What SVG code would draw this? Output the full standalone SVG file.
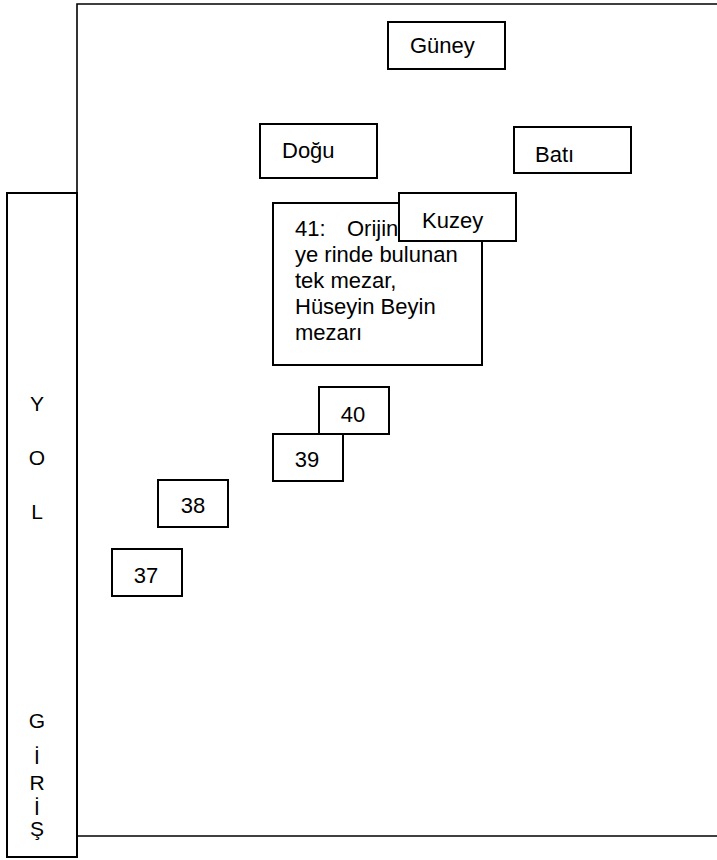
<svg xmlns="http://www.w3.org/2000/svg" width="717" height="860" viewBox="0 0 717 860">
<style>
.box{fill:#fff;stroke:#000;stroke-width:2}
.ln{fill:none;stroke:#000;stroke-width:1.6}
text{font-family:"Liberation Sans",Arial,sans-serif;font-size:22px;fill:#000}
.c{text-anchor:middle}
.v{font-size:21px}
</style>
<rect width="717" height="860" fill="#fff"/>
<g id="connectors">
<polyline class="ln" points="717,4 77,4 77,193"/>
<line class="ln" x1="77" y1="836" x2="717" y2="836"/>
</g>
<g id="yol">
<rect class="box" x="7" y="193" width="70" height="664"/>
<text class="c v" x="37" y="411">Y</text>
<text class="c v" x="37" y="465">O</text>
<text class="c v" x="37" y="519">L</text>
<text class="c v" x="37" y="728">G</text>
<text class="c v" x="37" y="764">İ</text>
<text class="c v" x="37" y="790">R</text>
<text class="c v" x="37" y="815">İ</text>
<text class="c v" x="37" y="836">Ş</text>
</g>
<g id="guney">
<rect class="box" x="388" y="22" width="117" height="47"/>
<text x="410" y="53">Güney</text>
</g>
<g id="dogu">
<rect class="box" x="260" y="124" width="117" height="54"/>
<text x="282" y="158">Doğu</text>
</g>
<g id="bati">
<rect class="box" x="514" y="127" width="117" height="46"/>
<text x="535" y="162">Batı</text>
</g>
<g id="n41">
<rect class="box" x="273" y="203" width="209" height="162"/>
<text x="295" y="236">41:</text>
<text x="347" y="236">Orijin</text>
<text x="295" y="262">ye rinde bulunan</text>
<text x="295" y="288">tek mezar,</text>
<text x="295" y="314">Hüseyin Beyin</text>
<text x="295" y="340">mezarı</text>
</g>
<g id="kuzey">
<rect class="box" x="399" y="193" width="117" height="48"/>
<text x="422" y="228">Kuzey</text>
</g>
<g id="n40">
<rect class="box" x="319" y="387" width="70" height="47"/>
<text class="c" x="353" y="422">40</text>
</g>
<g id="n39">
<rect class="box" x="273" y="434" width="70" height="47"/>
<text class="c" x="307" y="467">39</text>
</g>
<g id="n38">
<rect class="box" x="158" y="480" width="70" height="47"/>
<text class="c" x="193" y="513">38</text>
</g>
<g id="n37">
<rect class="box" x="112" y="549" width="70" height="47"/>
<text class="c" x="146" y="583">37</text>
</g>
</svg>
